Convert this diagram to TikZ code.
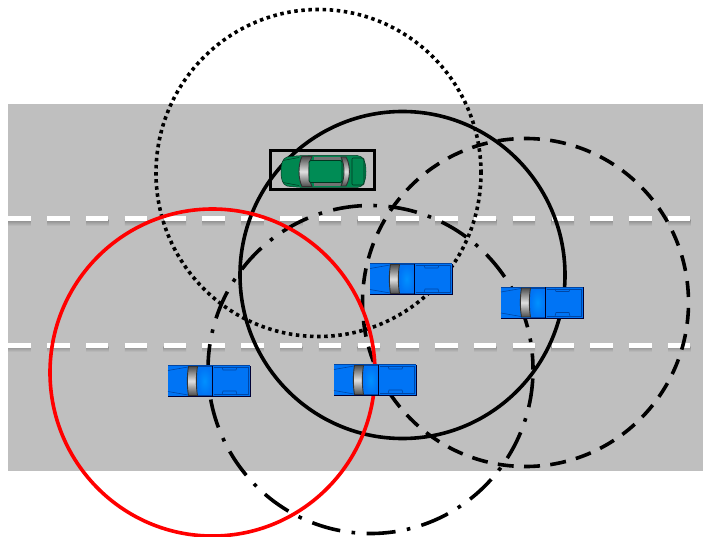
\documentclass[tikz,border=0pt]{standalone}
\usetikzlibrary{calc}
\definecolor{roadgray}{RGB}{191,191,191}
\definecolor{carblue}{RGB}{0,116,245}
\definecolor{cabblue}{RGB}{0,145,255}
\definecolor{trimblue}{RGB}{0,45,110}
\definecolor{bedblue}{RGB}{0,70,165}
\definecolor{cargreen}{RGB}{0,135,80}
\definecolor{cabgreen}{RGB}{0,140,85}
\definecolor{trimgreen}{RGB}{0,55,32}
\definecolor{ringred}{RGB}{255,0,0}
\tikzset{
  x=1pt,y=-1pt,
  ring/.style={line width=3.6pt},
  dotring/.style={ring,dash pattern=on 3.5pt off 3.6pt},
  dashring/.style={ring,dash pattern=on 16pt off 10.33pt,dash phase=20.83pt},
  dashdotring/.style={ring,dash pattern=on 29pt off 11.5pt on 3.6pt off 11.5pt,dash phase=12.9pt},
  lane/.style={white,line width=5pt,dash pattern=on 22.4pt off 16.4pt},
  glass/.style={top color=black!70,bottom color=black!70,middle color=white!88!black,draw=black!80,line width=.9pt},
  truck/.pic={
    % body
    \fill[carblue] (0,0) rectangle (82,31);
    \draw[black!80!blue,line width=.9pt] (0,31) -- (82,31) -- (82,0);
    \draw[bedblue,line width=.5pt] (0,0) -- (82,0);
    % hood creases
    \draw[bedblue,line width=.6pt] (0,5) -- (20,1.5) (0,26) -- (20,29.5);
    % cab roof
    \shade[inner color=cabblue,outer color=carblue] (29,1.5) rectangle (44,29.5);
    \draw[bedblue,line width=.6pt] (29,1) -- (44,1) (29,30) -- (44,30);
    % rear window band
    \draw[black!85!blue,line width=1.2pt] (44.7,0) -- (44.7,31);
    % windscreen
    \shadedraw[glass] (20.5,1) .. controls (19,9) and (19,22) .. (20.5,30) -- (29.5,30) .. controls (28,22) and (28,9) .. (29.5,1) -- cycle;
    % load bed
    \draw[bedblue,line width=.45pt] (45.5,1.8) -- (80,1.8) -- (80,29.2) -- (45.5,29.2);
    \draw[bedblue,line width=.6pt] (54,1.8) -- (55,4.5) -- (68,4.5) -- (69,1.8);
    \draw[bedblue,line width=.6pt] (54,29.2) -- (55,25.5) -- (68,25.5) -- (69,29.2);
  },
  sedan/.pic={
    % body
    \fill[cargreen,draw=trimgreen,line width=.5pt]
      (6,1.5) .. controls (12,.6) and (20,0) .. (28,0) -- (76,0)
      .. controls (82,0) and (85,6) .. (85,16) .. controls (85,26) and (82,32) .. (76,32)
      -- (28,32) .. controls (20,32) and (12,31.4) .. (6,30.5)
      .. controls (1.5,29) and (0,24) .. (0,16) .. controls (0,8) and (1.5,3) .. (6,1.5) -- cycle;
    % hood creases
    \draw[trimgreen,line width=.5pt] (2,5) -- (18,2) (2,27) -- (18,30);
    % side glass strips
    \fill[black!55] (33,1.5) rectangle (60,5);
    \fill[black!55] (33,27) rectangle (60,30.5);
    % windscreen
    \shadedraw[glass] (21,1) .. controls (17,9) and (17,23) .. (21,31) -- (31,31) .. controls (27,23) and (27,9) .. (31,1) -- cycle;
    % rear window
    \shadedraw[glass] (60,1.5) .. controls (64,9) and (64,23) .. (60,30.5) -- (65,30.5) .. controls (69.5,23) and (69.5,9) .. (65,1.5) -- cycle;
    % roof panel
    \fill[cabgreen,draw=trimgreen,line width=.8pt,rounded corners=2pt] (28,5) rectangle (61,27);
    % trunk panel
    \draw[trimgreen,line width=.6pt,rounded corners=1pt] (71,2.5) rectangle (83,29.5);
  }
}
\begin{document}
\begin{tikzpicture}
\useasboundingbox (0,0) rectangle (703,537);
% road surface
\fill[roadgray] (8,104) rectangle (703,471);
% soft shadows under the lane markings
\foreach \y in {219,345}{
  \foreach \i in {0,...,17}{
    \shade[top color=black!45,bottom color=roadgray]
      ({8.4+38.8*\i},\y+1) rectangle ({30.8+38.8*\i},\y+7);
  }
  \coordinate (laneL) at (8.4,\y);
  \coordinate (laneR) at (691.5,\y);
  \draw[lane] (laneL) -- (laneR);
}
% coverage circles
\coordinate (cDotted) at (318.5,173);
\coordinate (cSolid) at (402.5,275);
\coordinate (cDashed) at (525.5,302.5);
\coordinate (cDashDot) at (370.5,369.5);
\coordinate (cRed) at (212.5,372.5);
\draw[dotring] (cDotted) ellipse[x radius=162.5pt,y radius=163.5pt];
\draw[ring] (cSolid) ellipse[x radius=162.5pt,y radius=163.5pt];
\draw[dashring] (cDashed) ellipse[x radius=163pt,y radius=164pt];
\draw[dashdotring] (cDashDot) ellipse[x radius=162.5pt,y radius=164pt];
% marker round the target vehicle
\draw[black,line width=3pt] (270.5,150.5) rectangle (374.5,190);
\draw[ringred,ring] (cRed) ellipse[x radius=162.5pt,y radius=163.5pt];
% vehicles
\pic at (281,155.5) {sedan};
\pic at (370,263.5) {truck};
\pic at (501,287) {truck};
\pic at (334,364.5) {truck};
\pic at (168,365.5) {truck};
\end{tikzpicture}
\end{document}
